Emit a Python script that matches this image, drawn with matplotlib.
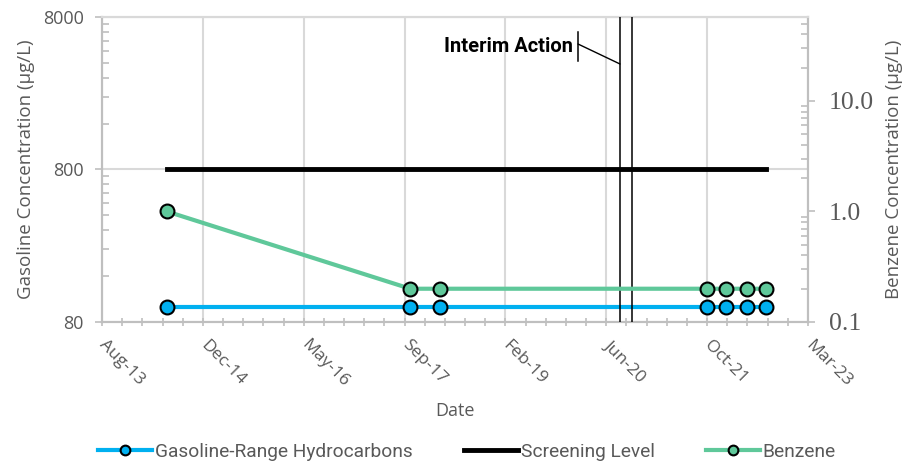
import datetime as dt
import matplotlib
matplotlib.use("Agg")
import matplotlib.pyplot as plt
import matplotlib.dates as mdates
from matplotlib.ticker import LogLocator, FixedLocator, NullFormatter

# sampling dates and results
dates = ["2014-07-02", "2017-10-20", "2018-03-18", "2021-10-29",
         "2022-02-01", "2022-05-15", "2022-08-19"]
gasoline = [100, 100, 100, 100, 100, 100, 100]
benzene = [1.0, 0.2, 0.2, 0.2, 0.2, 0.2, 0.2]
screening_level = 800
interim_dates = ["2020-08-25", "2020-10-22"]

x = [dt.datetime.strptime(d, "%Y-%m-%d") for d in dates]
xi = [dt.datetime.strptime(d, "%Y-%m-%d") for d in interim_dates]

blue = "#00b0f0"
green = "#5fc89a"
grey_txt = "#595959"
grid_c = "#d9d9d9"
spine_c = "#bfbfbf"

fig = plt.figure(figsize=(9.08, 4.66), dpi=100)
ax = fig.add_axes([102 / 908, 1 - 322 / 466, 706 / 908, 305 / 466])
ax2 = ax.twinx()

# Excel-style date axis: serial 41500 .. 45000, major unit 500 days
x0 = mdates.date2num(dt.datetime(1899, 12, 30))
ax.set_xlim(x0 + 41500, x0 + 45000)
ax.xaxis.set_major_locator(FixedLocator([x0 + 41500 + 500 * i for i in range(8)]))
ax.xaxis.set_minor_locator(FixedLocator([x0 + 41500 + 100 * i for i in range(36)]))
ax.xaxis.set_major_formatter(mdates.DateFormatter("%b-%y"))

ax.set_yscale("log")
ax.set_ylim(80, 8000)
ax.yaxis.set_major_locator(FixedLocator([80, 800, 8000]))
ax.yaxis.set_minor_locator(FixedLocator([80 * k * 10 ** e for e in range(2) for k in range(2, 10)]))
ax.yaxis.set_major_formatter(plt.FuncFormatter(lambda v, p: f"{v:.0f}"))
ax.yaxis.set_minor_formatter(NullFormatter())

ax2.set_yscale("log")
ax2.set_ylim(0.1, 57.5)
ax2.yaxis.set_major_locator(FixedLocator([0.1, 1.0, 10.0]))
ax2.yaxis.set_minor_locator(LogLocator(base=10, subs=range(2, 10)))
ax2.yaxis.set_major_formatter(plt.FuncFormatter(lambda v, p: f"{v:.1f}"))
ax2.yaxis.set_minor_formatter(NullFormatter())

ax.grid(True, which="major", color=grid_c, lw=1.5)
ax.set_axisbelow(True)
for a in (ax, ax2):
    for s in a.spines.values():
        s.set_color(spine_c)
        s.set_linewidth(1.5)
ax.spines["top"].set_color(grid_c)
ax2.spines["top"].set_color(grid_c)

ax.tick_params(axis="x", which="both", direction="inout", length=6, width=1.2,
               color=spine_c, labelcolor=grey_txt, labelsize=12.5, pad=12)
ax.tick_params(axis="y", which="major", direction="out", length=5, width=1.2,
               color=spine_c, labelcolor=grey_txt, labelsize=13, pad=8)
ax.tick_params(axis="y", which="minor", direction="in", length=5, width=1.2, color=spine_c)
ax2.tick_params(axis="y", which="major", direction="out", length=5, width=1.2,
                color=spine_c, labelcolor=grey_txt, labelsize=18.5, pad=10)
ax2.tick_params(axis="y", which="minor", direction="in", length=5, width=1.2, color=spine_c)
for t in ax.get_xticklabels():
    t.set_rotation(-45)
    t.set_rotation_mode("anchor")
    t.set_ha("left")
    t.set_va("center")
    t.set_family("Open Sans")
for t in ax.get_yticklabels():
    t.set_family("Open Sans")
for t in ax2.get_yticklabels():
    t.set_family("Liberation Serif")

# series
l_gas, = ax.plot(x, gasoline, color=blue, lw=3, marker="o", ms=10,
                 mfc=blue, mec="black", mew=1.5, zorder=5,
                 label="Gasoline-Range Hydrocarbons")
l_scr, = ax.plot([x[0], x[-1]], [screening_level, screening_level], color="black",
                 lw=3.5, zorder=4, label="Screening Level")
l_bz, = ax2.plot(x, benzene, color=green, lw=3, marker="o", ms=10,
                 mfc=green, mec="black", mew=1.5, zorder=5, label="Benzene")

for d in xi:
    ax2.axvline(d, color="black", lw=1.1, zorder=3)

# interim action callout
ax.annotate("", xy=(mdates.date2num(xi[0]), 258 / 305), xycoords=ax.get_xaxis_transform(),
            xytext=(578, 466 - 44), textcoords="figure pixels",
            arrowprops=dict(arrowstyle="-", color="black", lw=1,
                            shrinkA=0, shrinkB=0))
fig.text(573 / 908, 1 - 47 / 466, "Interim Action", ha="right", va="center",
         fontsize=14.5, fontweight="bold", family="Roboto", color="black")
fig.add_artist(plt.Line2D([578 / 908, 578 / 908], [1 - 32 / 466, 1 - 61 / 466],
                          color="black", lw=1.1))

ax.set_xlabel("Date", fontsize=13, color=grey_txt, family="Open Sans", labelpad=8)
ax.set_ylabel("Gasoline Concentration (µg/L)", fontsize=13.5, color=grey_txt,
              family="Open Sans", labelpad=6)
ax2.set_ylabel("Benzene Concentration (µg/L)", fontsize=13.5, color=grey_txt,
               family="Open Sans", labelpad=8)

fig.legend(handles=[l_gas, l_scr, l_bz], loc="center", bbox_to_anchor=(467 / 908, 1 - 452 / 466),
           ncol=3, frameon=False, handlelength=2.8, handletextpad=0.15, columnspacing=2.7,
           markerscale=0.7, prop={"family": "Roboto", "size": 13.8}, labelcolor=grey_txt)

fig.savefig("out.png", dpi=100)
